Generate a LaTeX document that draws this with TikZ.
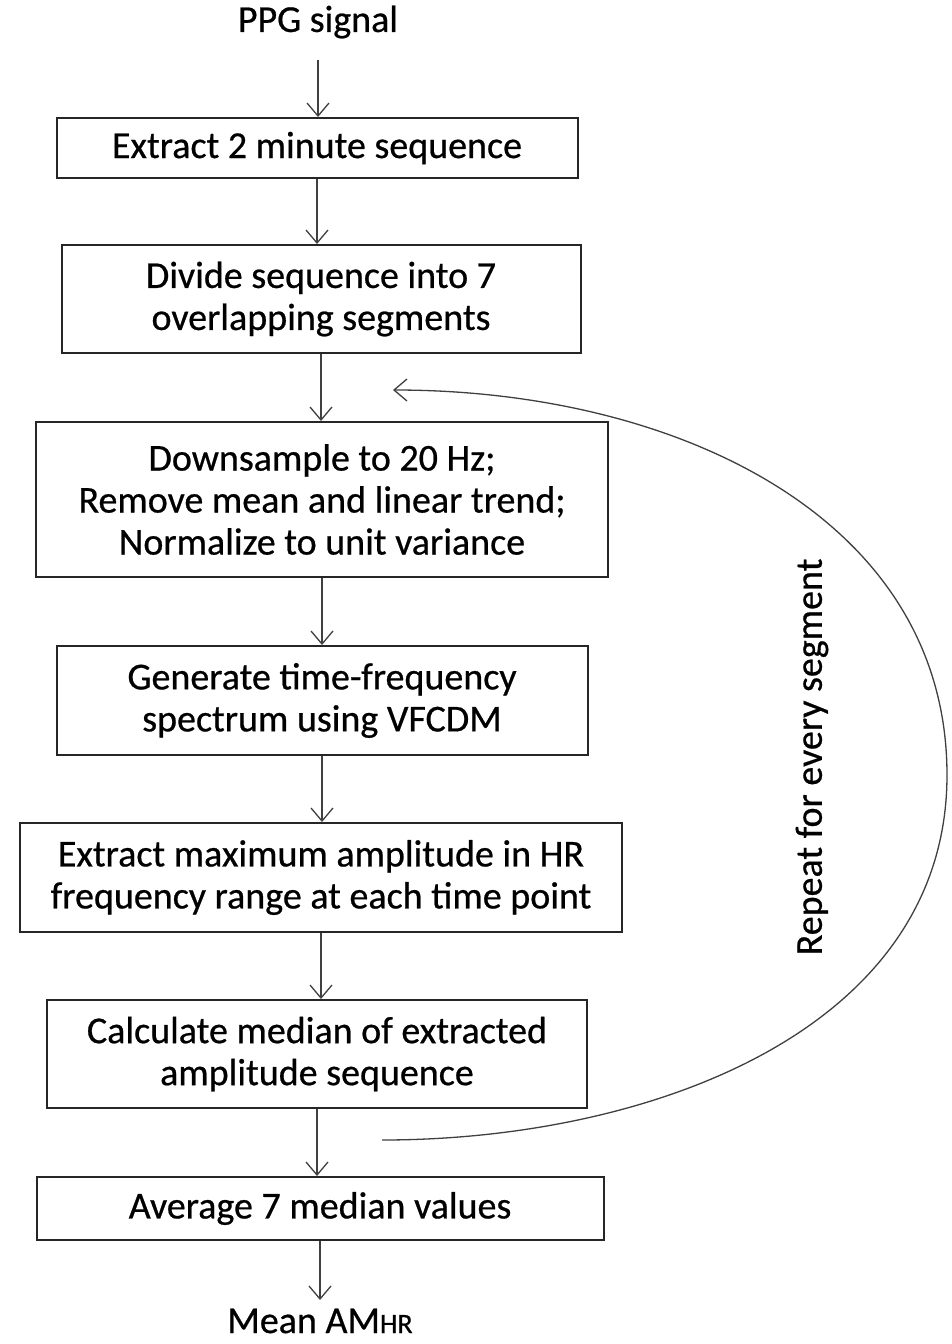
\documentclass[tikz,border=0pt]{standalone}
\usepackage{fontspec}
\setmainfont{Carlito}[FakeBold=0.6]
\usetikzlibrary{arrows.meta}
\begin{document}
\begin{tikzpicture}[x=1pt,y=-1pt,
  box/.style={draw=black!85, line width=2pt, rectangle, align=center, inner sep=0pt,
    font=\fontsize{38}{42}\selectfont},
  lbl/.style={font=\fontsize{38}{42}\selectfont, inner sep=0pt},
  arr/.style={draw=black!75, line width=1.3pt, -{Straight Barb[length=13pt,width=22pt,line width=1.3pt]}}]
\useasboundingbox (0,0) rectangle (951,1344);
\fill[white] (0,0) rectangle (951,1344);
\node[lbl] (ppg) at (318,22) {PPG signal};
\node[box, minimum width=521pt, minimum height=60pt] (b1) at (317,148) {Extract 2 minute sequence};
\node[box, minimum width=519pt, minimum height=108pt] (b2) at (321,299) {Divide sequence into 7\\overlapping segments};
\node[box, minimum width=572pt, minimum height=155pt] (b3) at (322,499.5) {Downsample to 20 Hz;\\Remove mean and linear trend;\\Normalize to unit variance};
\node[box, minimum width=531pt, minimum height=109pt] (b4) at (322,700.5) {Generate time-frequency\\spectrum using VFCDM};
\node[box, minimum width=602pt, minimum height=109pt] (b5) at (321,877.5) {Extract maximum amplitude in HR\\frequency range at each time point};
\node[box, minimum width=540pt, minimum height=108pt] (b6) at (317,1054) {Calculate median of extracted\\amplitude sequence};
\node[box, minimum width=567pt, minimum height=63pt] (b7) at (320,1208.5) {Average 7 median values};
\node[lbl, anchor=base] (mean) at (320,1333) {Mean AM{\fontsize{28}{28}\selectfont HR}};
\node[lbl, rotate=90] (rep) at (812,757) {Repeat for every segment};
\coordinate (p0) at (318,60);
\coordinate (p7) at (320,1300);
\coordinate (cs) at (382,1140);
\coordinate (cr) at (947,775);
\coordinate (ce) at (393,390);
\draw[arr] (p0) -- (p0 |- b1.north);
\draw[arr] (b1.south) -- (b1.south |- b2.north);
\draw[arr] (b2.south) -- (b2.south |- b3.north);
\draw[arr] (b3.south) -- (b3.south |- b4.north);
\draw[arr] (b4.south) -- (b4.south |- b5.north);
\draw[arr] (b5.south) -- (b5.south |- b6.north);
\draw[arr] (b6.south) -- (b6.south |- b7.north);
\draw[arr] (b7.south) -- (p7);
\draw[arr] (cs) .. controls (650,1140) and (947,1030) .. (cr)
  .. controls (947,520) and (680,390) .. (ce);
\end{tikzpicture}
\end{document}
